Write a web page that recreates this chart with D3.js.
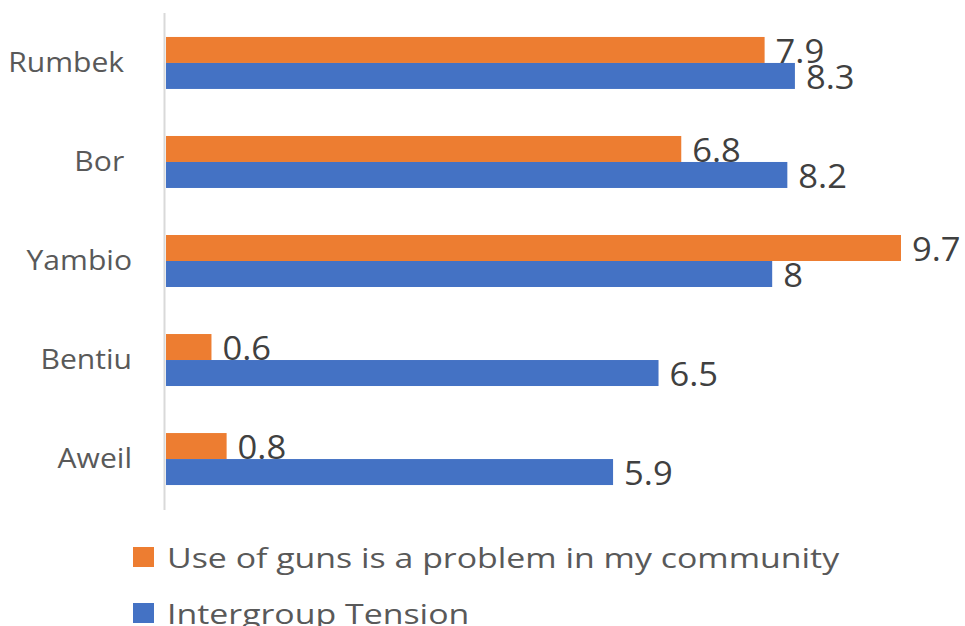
<!DOCTYPE html>
<html>
<head>
<meta charset="utf-8">
<script src="https://cdn.jsdelivr.net/npm/d3@7"></script>
<style>
  html, body { margin: 0; padding: 0; background: #fff; }
  svg { display: block; font-family: "Open Sans", "Noto Sans", sans-serif; }
  text { white-space: pre; }
</style>
</head>
<body>
<svg id="chart" width="965" height="626"></svg>
<script>
// Towns, listed top to bottom
const towns = ["Rumbek ", "Bor ", "Yambio", "Bentiu", "Aweil"];
// Series values per town
const gunsProblem = [7.9, 6.8, 9.7, 0.6, 0.8];
const intergroupTension = [8.3, 8.2, 8, 6.5, 5.9];
const seriesNames = ["Use of guns is a problem in my community", "Intergroup Tension"];
const seriesColors = ["#ED7D31", "#4472C4"];

// Glyphs are drawn slightly widened
const labelStretch = 1.075;
const valueStretch = 1.08;
const legendStretch = 1.21;

const svg = d3.select("#chart");

const x = d3.scaleLinear().domain([0, 9.7]).range([166, 901]);
const y = d3.scaleBand().domain(towns).range([13, 509])
  .paddingInner(0.475).paddingOuter(0.242);
const sub = d3.scaleBand().domain([0, 1]).range([0, y.bandwidth()]);

const series = [gunsProblem, intergroupTension];

// Vertical category axis line
svg.append("line")
  .attr("x1", 164.5).attr("x2", 164.5)
  .attr("y1", 13).attr("y2", 510)
  .attr("stroke", "#D9D9D9").attr("stroke-width", 2);

// Category labels
const yAxis = d3.axisLeft(y).tickSize(0).tickPadding(0);
const ga = svg.append("g").attr("transform", "translate(132,0)").call(yAxis);
ga.select(".domain").remove();
ga.selectAll("text")
  .attr("font-size", 28)
  .attr("fill", "#595959")
  .attr("font-family", "'Open Sans', sans-serif")
  .attr("transform", `scale(${labelStretch},1)`);

// Bars and value labels
series.forEach((vals, si) => {
  const g = svg.append("g");
  g.selectAll("rect").data(towns).join("rect")
    .attr("x", x(0))
    .attr("y", (d) => y(d) + sub(si))
    .attr("width", (d, i) => x(vals[i]) - x(0))
    .attr("height", sub.bandwidth())
    .attr("fill", seriesColors[si]);
  g.selectAll("g.val").data(towns).join("g")
    .attr("class", "val")
    .attr("transform", (d, i) =>
      `translate(${x(vals[i]) + 11},${y(d) + sub(si) + sub.bandwidth()}) scale(${valueStretch},1)`)
    .append("text")
    .attr("font-size", 32)
    .attr("fill", "#404040")
    .text((d, i) => String(vals[i]));
});

// Legend
const leg = svg.append("g");
seriesNames.forEach((name, i) => {
  const row = leg.append("g").attr("transform", `translate(133,${547 + i * 56})`);
  row.append("rect").attr("width", 21).attr("height", 20).attr("fill", seriesColors[i]);
  row.append("g")
    .attr("transform", `translate(34,20.5) scale(${legendStretch},1)`)
    .append("text")
    .attr("font-size", 28)
    .attr("fill", "#595959")
    .text(name);
});
</script>
</body>
</html>
